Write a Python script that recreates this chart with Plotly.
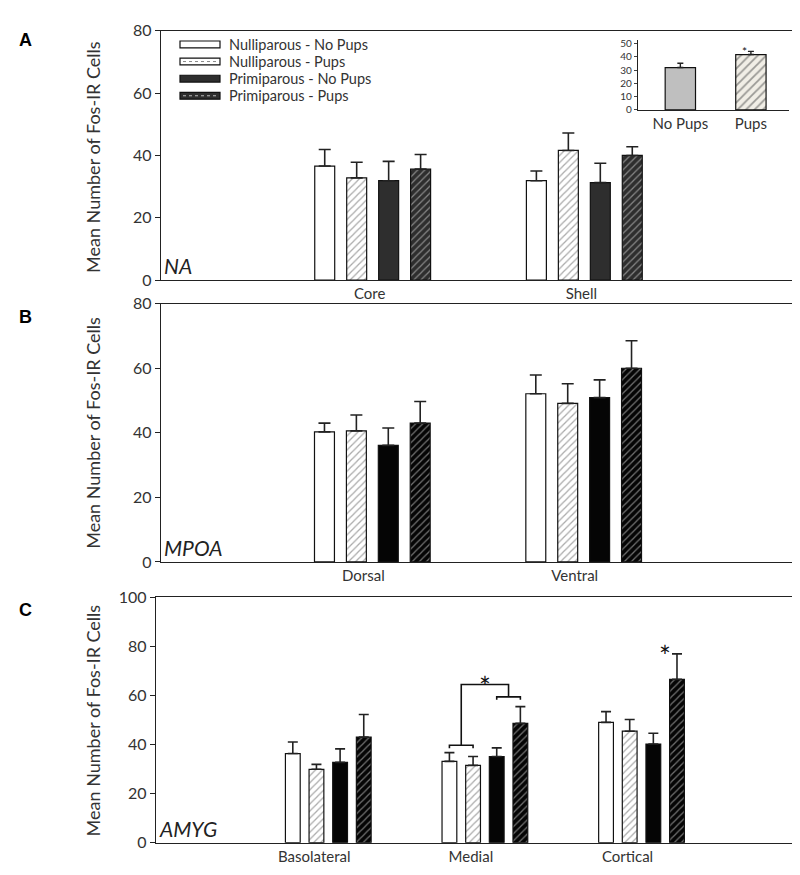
import plotly.graph_objects as go

W, H = 800, 875
FONT = "Lato, 'Open Sans', sans-serif"
TXT = "#333333"

groups = ["Nulliparous - No Pups", "Nulliparous - Pups",
          "Primiparous - No Pups", "Primiparous - Pups"]

# panel A: nucleus accumbens
na_regions = ["Core", "Shell"]
na_means = [[36.6, 31.9], [32.8, 41.6], [31.9, 31.3], [35.6, 40.0]]
na_sem = [[5.3, 3.1], [5.0, 5.6], [6.2, 6.2], [4.7, 2.8]]

# panel B: medial preoptic area
mpoa_regions = ["Dorsal", "Ventral"]
mpoa_means = [[40.3, 52.1], [40.6, 49.1], [36.1, 50.9], [43.0, 60.0]]
mpoa_sem = [[2.7, 5.8], [4.9, 6.1], [5.4, 5.5], [6.7, 8.5]]

# panel C: amygdala
amyg_regions = ["Basolateral", "Medial", "Cortical"]
amyg_means = [[36.3, 33.1, 49.0], [29.9, 31.5, 45.4], [32.7, 35.1, 40.2], [43.0, 48.6, 66.5]]
amyg_sem = [[4.7, 3.6, 4.4], [2.0, 3.6, 4.8], [5.5, 3.5, 4.4], [9.2, 6.8, 10.4]]

# inset in A: shell, collapsed over reproductive state
inset_cats = ["No Pups", "Pups"]
inset_means = [31.9, 41.7]
inset_sem = [3.2, 2.4]

BARGAP = 0.396
SLOT = (1 - BARGAP) / 4


def px(x):
    return x / W


def py(y):
    return 1 - y / H


def dom_x(a, b):
    return [px(a), px(b)]


def dom_y(top, bottom):
    return [py(bottom), py(top)]


fig = go.Figure()

panels = [
    (na_regions, na_means, na_sem, "x", "y", "#2e2e2e", 6),
    (mpoa_regions, mpoa_means, mpoa_sem, "x2", "y2", "#050505", 6),
    (amyg_regions, amyg_means, amyg_sem, "x3", "y3", "#050505", 5),
]
for regions, means, sems, xa, ya, dark, cap in panels:
    fills = ["white", "white", dark, dark]
    shapes = ["", "/", "", "/"]
    fgs = ["#555555", "#555555", "#dddddd", "#dddddd"]
    for g in range(4):
        fig.add_trace(go.Bar(
            x=regions, y=means[g], name=groups[g], xaxis=xa, yaxis=ya,
            showlegend=False,
            marker=dict(color=fills[g], line=dict(color="#111111", width=1.2),
                        pattern=dict(shape=shapes[g], fgcolor=fgs[g], bgcolor=fills[g],
                                     size=5, solidity=0.25)),
            error_y=dict(type="data", symmetric=False, array=sems[g],
                         arrayminus=[0] * len(regions), color="#222222",
                         thickness=1.6, width=cap),
        ))

fig.add_trace(go.Bar(
    x=inset_cats, y=inset_means, xaxis="x4", yaxis="y4", width=0.43, showlegend=False,
    marker=dict(color=["#bfbfbf", "#f1eee6"], line=dict(color="#111111", width=1.2),
                pattern=dict(shape=["", "/"], fgcolor="#dcd8cc", bgcolor=["#bfbfbf", "#f1eee6"],
                             size=6, solidity=0.3)),
    error_y=dict(type="data", symmetric=False, array=inset_sem, arrayminus=[0, 0],
                 color="#222222", thickness=1.4, width=3),
))

yax = dict(showline=True, linecolor="#222222", linewidth=1.4, mirror=True,
           ticks="outside", ticklen=5, tickcolor="#222222", showgrid=False, zeroline=False,
           tickfont=dict(family=FONT, size=16, color=TXT))
xax = dict(showline=True, linecolor="#222222", linewidth=1.4, mirror=True, ticks="",
           showgrid=False, zeroline=False, tickfont=dict(family=FONT, size=15, color=TXT))

fig.update_layout(
    width=W, height=H, margin=dict(l=0, r=0, t=0, b=0),
    paper_bgcolor="white", plot_bgcolor="white",
    barmode="group", bargap=BARGAP, bargroupgap=0.375,
    font=dict(family=FONT, color=TXT),
    xaxis=dict(xax, domain=dom_x(153, 788), range=[-1, 2], anchor="y", ticklabelshift=-3),
    yaxis=dict(yax, domain=dom_y(13, 268), range=[0, 80], dtick=20, anchor="x"),
    xaxis2=dict(xax, domain=dom_x(153, 787), range=[-1, 2], anchor="y2", ticklabelshift=-9),
    yaxis2=dict(yax, domain=dom_y(292, 556), range=[0, 80], dtick=20, anchor="x2"),
    xaxis3=dict(xax, domain=dom_x(148, 787), range=[-1.1, 2.98], anchor="y3", ticklabelshift=-14),
    yaxis3=dict(yax, domain=dom_y(592, 843), range=[0, 100], dtick=20, anchor="x3"),
    xaxis4=dict(showline=True, linecolor="#222222", linewidth=1.3, ticks="", showgrid=False,
                zeroline=False, domain=dom_x(630, 781), range=[-0.6, 1.54], anchor="y4",
                tickfont=dict(family=FONT, size=15, color=TXT)),
    yaxis4=dict(showline=True, linecolor="#222222", linewidth=1.3, ticks="outside", ticklen=3,
                showgrid=False, zeroline=False, domain=dom_y(22, 94), range=[0, 53], dtick=10,
                anchor="x4", tickfont=dict(family=FONT, size=10, color=TXT)),
)

ann = []
for letter, y in [("A", 22), ("B", 306), ("C", 605)]:
    ann.append(dict(text=f"<b>{letter}</b>", x=px(17), y=py(y), xref="paper", yref="paper",
                    xanchor="center", yanchor="middle", showarrow=False,
                    font=dict(family="Arial, sans-serif", size=18, color="black")))
for text, ya in [("NA", "y"), ("MPOA", "y2"), ("AMYG", "y3")]:
    xa = "x" + ya[1:]
    ann.append(dict(text=f"<i>{text}</i>", x=0, xref=f"{xa} domain", y=0, yref=f"{ya} domain",
                    xanchor="left", yanchor="bottom", xshift=1, yshift=0, showarrow=False,
                    font=dict(family=FONT, size=21, color="#222222")))
for yc in [142, 424, 718]:
    ann.append(dict(text="Mean Number of Fos-IR Cells", textangle=-90, x=px(85), y=py(yc),
                    xref="paper", yref="paper", xanchor="center", yanchor="middle",
                    showarrow=False, font=dict(family=FONT, size=18, color=TXT)))

# custom legend (wide flat swatches like the original)
leg_rows = [27, 44.5, 62, 79.5]
leg_fill = ["white", "white", "#2e2e2e", "#2e2e2e"]
leg_dots = [None, "#888888", None, "#bbbbbb"]
shapes = []
for i, name in enumerate(groups):
    yc = leg_rows[i]
    shapes.append(dict(type="rect", xref="paper", yref="paper", x0=px(172), x1=px(212),
                       y0=py(yc + 3.5), y1=py(yc - 3.5), fillcolor=leg_fill[i],
                       line=dict(color="#111111", width=1.2)))
    if leg_dots[i]:
        shapes.append(dict(type="line", xref="paper", yref="paper", x0=px(175), x1=px(209),
                           y0=py(yc), y1=py(yc), line=dict(color=leg_dots[i], width=1, dash="dot")))
    ann.append(dict(text=name, x=px(220), y=py(yc), xref="paper", yref="paper",
                    xanchor="left", yanchor="middle", showarrow=False, borderpad=0,
                    font=dict(family=FONT, size=14.5, color=TXT)))

# significance marks in AMYG
med = amyg_regions.index("Medial")
top = [amyg_means[g][med] + amyg_sem[g][med] for g in range(4)]
b1 = max(top[0], top[1]) + 3
b2 = max(top[2], top[3]) + 4
bt = b2 + 5
drop = 1.2
line = dict(color="#111111", width=1.6)
c1x0, c1x1 = med - 1.5 * SLOT, med - 0.5 * SLOT
c2x0, c2x1 = med + 0.5 * SLOT, med + 1.5 * SLOT
for x0, x1, yb in [(c1x0, c1x1, b1), (c2x0, c2x1, b2)]:
    shapes.append(dict(type="path", xref="x3", yref="y3", line=line,
                       path=f"M {x0} {yb - drop} L {x0} {yb} L {x1} {yb} L {x1} {yb - drop}"))
mx1, mx2 = med - SLOT, med + SLOT
shapes.append(dict(type="path", xref="x3", yref="y3", line=line,
                   path=f"M {mx1} {b1} L {mx1} {bt} L {mx2} {bt} L {mx2} {b2}"))
ann.append(dict(text="*", x=med, y=bt, xref="x3", yref="y3", yanchor="middle", yshift=-2,
                showarrow=False, font=dict(family=FONT, size=28, color="#111111")))
cor = amyg_regions.index("Cortical")
ann.append(dict(text="*", x=cor + 1.5 * SLOT, y=amyg_means[3][cor] + amyg_sem[3][cor],
                xref="x3", yref="y3", xshift=-12, yanchor="middle", yshift=-2, showarrow=False,
                font=dict(family=FONT, size=28, color="#111111")))
ann.append(dict(text="*", x=1, y=inset_means[1] + inset_sem[1], xref="x4", yref="y4",
                xshift=-6, yanchor="middle", yshift=0, showarrow=False,
                font=dict(family=FONT, size=12, color="#111111")))

fig.update_layout(annotations=ann, shapes=shapes)
fig.write_html("out.html")
